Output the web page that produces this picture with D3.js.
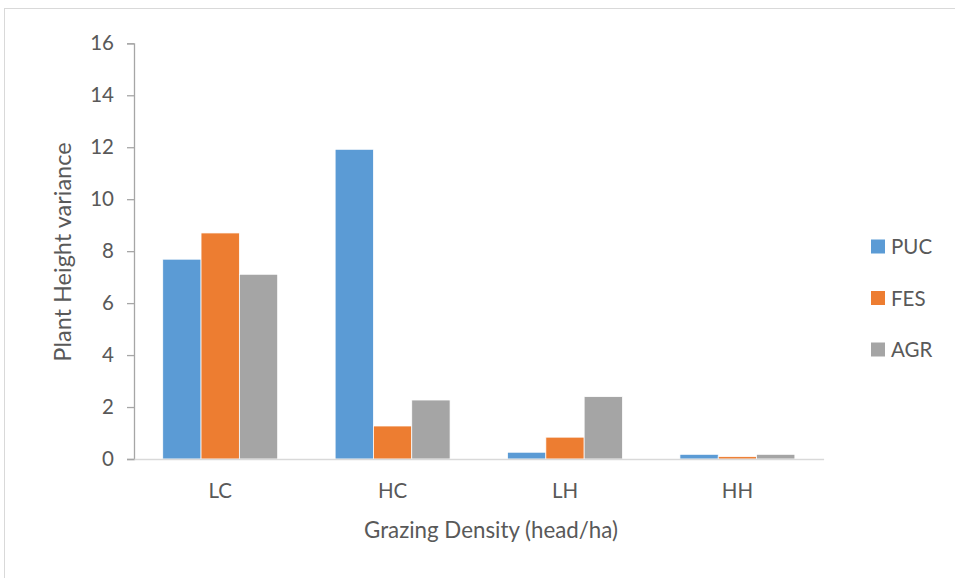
<!DOCTYPE html>
<html>
<head>
<meta charset="utf-8">
<script src="https://cdn.jsdelivr.net/npm/d3@7"></script>
<style>
  html, body { margin: 0; padding: 0; background: #fff; }
  svg { display: block; }
  text { font-family: Lato, "Open Sans", sans-serif; fill: #595959; }
</style>
</head>
<body>
<svg id="chart" width="955" height="578"></svg>
<script>
// Grazing density groups and plant height variance per species
const categories = ["LC", "HC", "LH", "HH"];
const seriesNames = ["PUC", "FES", "AGR"];
const seriesColors = ["#5b9bd5", "#ed7d31", "#a5a5a5"];
const puc = [7.69, 11.92, 0.26, 0.18];
const fes = [8.70, 1.27, 0.84, 0.09];
const agr = [7.11, 2.27, 2.40, 0.18];
const yTicks = [0, 2, 4, 6, 8, 10, 12, 14, 16];

const seriesValues = [puc, fes, agr];
const rows = categories.map((c, i) => ({
  cat: c,
  vals: seriesNames.map((s, j) => ({ key: s, value: seriesValues[j][i], color: seriesColors[j] }))
}));

const svg = d3.select("#chart");
const plot = { left: 134, right: 823.6, top: 43.3, bottom: 459 };

// outer frame
svg.append("rect")
  .attr("x", 4.5).attr("y", 8.5)
  .attr("width", 970).attr("height", 600)
  .attr("fill", "none").attr("stroke", "#d9d9d9").attr("stroke-width", 1);

const x0 = d3.scaleBand().domain(categories).range([plot.left, plot.right]).padding(0);
const groupPad = x0.bandwidth() / 6;
const x1 = d3.scaleBand().domain(seriesNames)
  .range([groupPad, x0.bandwidth() - groupPad]).padding(0);
const y = d3.scaleLinear().domain([0, 16]).range([plot.bottom, plot.top]);

// bars
const groups = svg.append("g").selectAll("g").data(rows).join("g")
  .attr("transform", d => `translate(${x0(d.cat)},0)`);
groups.selectAll("rect").data(d => d.vals).join("rect")
  .attr("x", d => x1(d.key))
  .attr("y", d => y(d.value))
  .attr("width", x1.bandwidth())
  .attr("height", d => y(0) - y(d.value))
  .attr("fill", d => d.color)
  .attr("stroke", "#ffffff").attr("stroke-width", 0.75);

// y axis
const yAxis = svg.append("g")
  .attr("transform", `translate(${plot.left},0)`)
  .call(d3.axisLeft(y).tickValues(yTicks).tickSize(7).tickPadding(13).tickFormat(d3.format("d")));
yAxis.select(".domain").attr("stroke", "#a6a6a6").attr("stroke-width", 1.3);
yAxis.selectAll(".tick line").attr("stroke", "#a6a6a6").attr("stroke-width", 1.3);
yAxis.selectAll(".tick text").attr("font-size", 20.5).attr("fill", "#595959")
  .style("font-family", "Lato, sans-serif");

// x axis
const xAxis = svg.append("g")
  .attr("transform", `translate(0,${plot.bottom})`)
  .call(d3.axisBottom(x0).tickSize(0).tickPadding(24));
xAxis.select(".domain").attr("stroke", "#d9d9d9").attr("stroke-width", 1.5);
xAxis.selectAll(".tick text").attr("font-size", 20.5).attr("fill", "#595959")
  .style("font-family", "Lato, sans-serif");

// axis titles
svg.append("text")
  .attr("transform", "translate(71,252) rotate(-90)")
  .attr("text-anchor", "middle")
  .attr("font-size", 23.5)
  .text("Plant Height variance");
svg.append("text")
  .attr("x", 491).attr("y", 538)
  .attr("text-anchor", "middle")
  .attr("font-size", 22.3)
  .text("Grazing Density (head/ha)");

// legend
const legend = svg.append("g").selectAll("g").data(seriesNames).join("g")
  .attr("transform", (d, i) => `translate(871,${239.5 + i * 51.5})`);
legend.append("rect")
  .attr("width", 14).attr("height", 14)
  .attr("fill", (d, i) => seriesColors[i]);
legend.append("text")
  .attr("x", 20).attr("y", 14.5)
  .attr("font-size", 20.5)
  .text(d => d);
</script>
</body>
</html>
